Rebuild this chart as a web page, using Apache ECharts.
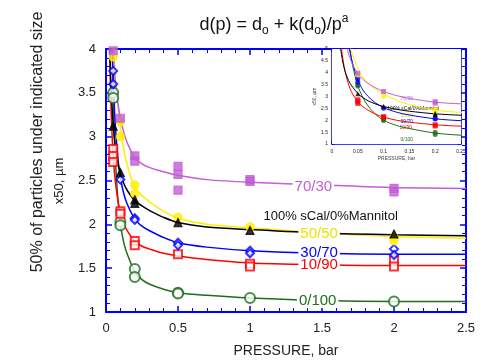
<!DOCTYPE html>
<html>
<head>
<meta charset="utf-8">
<script src="https://cdn.jsdelivr.net/npm/echarts@6/dist/echarts.min.js"></script>
<style>
  html, body { margin: 0; padding: 0; background: #fff; }
  #chart { width: 494px; height: 363px; }
</style>
</head>
<body>
<div id="chart"></div>
<script>
// measured points (pressure in bar, x50 in um)
const p7030 = [0.05, 0.1, 0.2, 0.2, 0.5, 0.5, 0.5, 1, 1, 2, 2];
const d7030 = [3.98, 3.21, 2.78, 2.72, 2.66, 2.57, 2.39, 2.51, 2.49, 2.41, 2.37];
const p5050 = [0.05, 0.1, 0.1, 0.2, 0.2, 0.5, 1, 2, 2];
const d5050 = [3.91, 3.17, 3.0, 2.45, 2.35, 2.08, 1.97, 1.85, 1.81];
const pSCal = [0.05, 0.1, 0.2, 0.2, 0.5, 1, 2];
const dSCal = [3.12, 2.59, 2.28, 2.24, 2.02, 1.93, 1.89];
const p3070 = [0.05, 0.05, 0.1, 0.2, 0.2, 0.5, 0.5, 1, 1, 2, 2];
const d3070 = [3.75, 3.6, 2.51, 2.07, 2.05, 1.79, 1.76, 1.7, 1.67, 1.72, 1.65];
const p1090 = [0.05, 0.05, 0.05, 0.1, 0.1, 0.2, 0.2, 0.5, 1, 1, 2, 2];
const d1090 = [2.86, 2.78, 2.71, 2.15, 2.12, 1.81, 1.76, 1.66, 1.55, 1.52, 1.59, 1.52];
const p0100 = [0.05, 0.05, 0.1, 0.1, 0.2, 0.2, 0.5, 0.5, 1, 2];
const d0100 = [3.5, 3.44, 2.03, 1.99, 1.49, 1.4, 1.22, 1.21, 1.16, 1.12];

// fitted curves d(p) = do + k(do)/p^a
const fitP = [0.015, 0.02, 0.025, 0.03, 0.035, 0.04, 0.05, 0.06, 0.07, 0.085, 0.1, 0.125, 0.15, 0.2, 0.25, 0.3, 0.4, 0.5, 0.7, 1, 1.5, 2, 2.5];
const fit7030 = [8.5, 6.5, 5.5, 4.95, 4.6, 4.35, 3.97, 3.72, 3.55, 3.36, 3.21, 3.04, 2.92, 2.76, 2.69, 2.65, 2.6, 2.56, 2.51, 2.48, 2.45, 2.42, 2.41];
const fit5050 = [9.5, 7.0, 6.1, 5.6, 5.1, 4.75, 4.2, 3.82, 3.55, 3.3, 3.1, 2.84, 2.66, 2.42, 2.33, 2.26, 2.15, 2.07, 2.0, 1.96, 1.9, 1.86, 1.84];
const fitSCal = [5.3, 4.55, 4.08, 3.78, 3.56, 3.4, 3.13, 2.95, 2.82, 2.68, 2.58, 2.46, 2.38, 2.27, 2.21, 2.16, 2.08, 2.02, 1.97, 1.94, 1.9, 1.88, 1.87];
const fit3070 = [10, 7.5, 6.3, 5.45, 4.85, 4.4, 3.7, 3.27, 3.0, 2.72, 2.53, 2.34, 2.22, 2.06, 1.98, 1.93, 1.85, 1.79, 1.74, 1.7, 1.67, 1.66, 1.66];
const fit1090 = [5.8, 4.75, 4.1, 3.65, 3.33, 3.1, 2.78, 2.57, 2.42, 2.25, 2.13, 2.0, 1.92, 1.81, 1.75, 1.72, 1.67, 1.64, 1.6, 1.56, 1.54, 1.53, 1.53];
const fit0100 = [12, 8, 6.6, 5.8, 5.0, 4.3, 3.45, 2.95, 2.6, 2.24, 2.0, 1.78, 1.65, 1.46, 1.37, 1.32, 1.26, 1.22, 1.19, 1.16, 1.13, 1.12, 1.12];

const xTicks = [0, 0.5, 1, 1.5, 2, 2.5];
const yTicks = [1, 1.5, 2, 2.5, 3, 3.5, 4];
const insetXTicks = [0, 0.05, 0.1, 0.15, 0.2, 0.25];
const insetYTicks = [1, 1.5, 2, 2.5, 3, 3.5, 4, 4.5, 5];

const zip = (a, b) => a.map((v, i) => [v, b[i]]);

const FONT = 'Arial, "Liberation Sans", sans-serif';
const BLUE = '#0000ff';

// draw order: green, red, blue, yellow, black, purple
const mixes = [
  { name: '0/100', color: '#1e6e1e', symbol: 'emptyCircle', inSym: 'circle', size: 10, p: p0100, d: d0100, fit: fit0100 },
  { name: '10/90', color: '#ff0000', symbol: 'emptyRect', inSym: 'rect', size: 8, p: p1090, d: d1090, fit: fit1090 },
  { name: '30/70', color: '#0000ff', symbol: 'emptyDiamond', inSym: 'circle', size: 8, p: p3070, d: d3070, fit: fit3070 },
  { name: '50/50', color: '#ffee00', symbol: 'circle', inSym: 'circle', size: 8, p: p5050, d: d5050, fit: fit5050 },
  { name: '100% sCal/0%Mannitol', color: '#000000', symbol: 'triangle', inSym: 'triangle', size: 8, p: pSCal, d: dSCal, fit: fitSCal },
  { name: '70/30', color: '#c35ed6', symbol: 'rect', inSym: 'rect', size: 8, p: p7030, d: d7030, fit: fit7030 }
];

function valueAxis(gi, pos, min, max, step, showLabel, fs, margin) {
  return {
    type: 'value', gridIndex: gi, position: pos, min: min, max: max, interval: step,
    axisLine: { show: true, onZero: false, lineStyle: { color: BLUE, width: gi === 0 ? 2 : 1.5 } },
    axisTick: { show: true, inside: true, length: gi === 0 ? 6 : 3, lineStyle: { color: BLUE, width: 1.5 } },
    minorTick: { show: true, splitNumber: 5, length: gi === 0 ? 4 : 2, lineStyle: { color: BLUE, width: 1 } },
    splitLine: { show: false },
    axisLabel: { show: showLabel, color: '#222', fontSize: fs, fontFamily: FONT, margin: margin }
  };
}

const series = [];
mixes.forEach(m => {
  series.push({
    type: 'line', xAxisIndex: 0, yAxisIndex: 0, data: zip(fitP, m.fit),
    smooth: 0.3, showSymbol: false, clip: true, z: 2,
    lineStyle: { color: m.color, width: 1.5 }, silent: true
  });
});
mixes.forEach(m => {
  series.push({
    type: 'scatter', xAxisIndex: 0, yAxisIndex: 0, data: zip(m.p, m.d),
    symbol: m.symbol, symbolSize: m.size, z: 4,
    itemStyle: { color: m.color, borderColor: m.color, borderWidth: 1.2 }
  });
});
// inset
mixes.forEach(m => {
  series.push({
    type: 'line', xAxisIndex: 2, yAxisIndex: 2, data: zip(fitP, m.fit),
    smooth: 0.3, showSymbol: false, clip: true, z: 6,
    lineStyle: { color: m.color, width: 1 }, silent: true
  });
  series.push({
    type: 'scatter', xAxisIndex: 2, yAxisIndex: 2, data: zip(m.p, m.d).filter(v => v[0] <= 0.25),
    symbol: m.inSym, symbolSize: 5, z: 7, clip: true,
    itemStyle: { color: m.color }
  });
});

function tag(text, coord, color, fs, bg) {
  return {
    coord: coord, symbolSize: 0,
    label: {
      show: true, formatter: text, color: color, fontSize: fs, fontFamily: FONT,
      position: 'inside', backgroundColor: bg ? '#fff' : 'transparent', padding: bg ? [0, 2] : 0
    }
  };
}

// inline curve labels, main chart
series.push({
  type: 'scatter', xAxisIndex: 0, yAxisIndex: 0, data: [], z: 10,
  markPoint: {
    symbol: 'rect', silent: true,
    data: [
      tag('70/30', [1.44, 2.425], '#c35ed6', 15, true),
      tag('100% sCal/0%Mannitol', [1.56, 2.09], '#111', 13, false),
      tag('50/50', [1.48, 1.89], '#f2e200', 15, true),
      tag('30/70', [1.48, 1.67], '#0000ff', 15, true),
      tag('10/90', [1.48, 1.535], '#ff0000', 15, true),
      tag('0/100', [1.47, 1.13], '#1e6e1e', 15, true)
    ]
  }
});
// inset labels
series.push({
  type: 'scatter', xAxisIndex: 2, yAxisIndex: 2, data: [], z: 11,
  markPoint: {
    symbol: 'rect', silent: true,
    data: [
      tag('70/30', [0.145, 2.92], '#c35ed6', 5, true),
      tag('100% sCal/0%Mannitol', [0.157, 2.5], '#111', 5, false),
      tag('50/50', [0.145, 2.18], '#e8d800', 5, true),
      tag('30/70', [0.145, 1.94], '#0000ff', 5, true),
      tag('10/90', [0.143, 1.7], '#ff0000', 5, true),
      tag('0/100', [0.145, 1.17], '#1e6e1e', 5, true)
    ]
  }
});

const xMain = valueAxis(0, 'bottom', xTicks[0], xTicks[xTicks.length - 1], 0.5, true, 13, 10);
Object.assign(xMain, {
  name: 'PRESSURE, bar', nameLocation: 'middle', nameGap: 32,
  nameTextStyle: { color: '#222', fontSize: 14, fontFamily: FONT }
});
const xInset = valueAxis(1, 'bottom', insetXTicks[0], insetXTicks[insetXTicks.length - 1], 0.05, true, 5, 5);
Object.assign(xInset, {
  name: 'PRESSURE, bar', nameLocation: 'middle', nameGap: 12,
  nameTextStyle: { color: '#444', fontSize: 5, fontFamily: FONT }
});
const yInset = valueAxis(1, 'left', insetYTicks[0], insetYTicks[insetYTicks.length - 1], 0.5, true, 5, 4);
Object.assign(yInset, {
  name: 'x50, µm', nameLocation: 'middle', nameGap: 14,
  nameTextStyle: { color: '#444', fontSize: 5, fontFamily: FONT }
});

const option = {
  animation: false,
  backgroundColor: '#fff',
  grid: [
    { left: 106, top: 49, width: 360, height: 267 },
    { left: 332, top: 49, width: 129, height: 95, show: true, backgroundColor: '#fff', borderWidth: 0, z: 5 }
  ],
  xAxis: [
    xMain,
    valueAxis(0, 'top', 0, 2.5, 0.5, false, 13, 8),
    xInset,
    valueAxis(1, 'top', 0, 0.25, 0.05, false, 5, 4)
  ],
  yAxis: [
    valueAxis(0, 'left', yTicks[0], yTicks[yTicks.length - 1], 0.5, true, 13, 10),
    valueAxis(0, 'right', 1, 4, 0.5, false, 13, 8),
    yInset,
    valueAxis(1, 'right', 1, 5, 0.5, false, 5, 4)
  ],
  series: series,
  graphic: [
    {
      type: 'text', x: 274, y: 25, z: 20,
      style: {
        text: '{b|d(p) = d}{s|o}{b| + k(d}{s|o}{b|)/p}{u|a}',
        align: 'center', verticalAlign: 'middle', fill: '#111',
        rich: {
          b: { fontSize: 18, fontFamily: FONT, lineHeight: 24, fill: '#111' },
          s: { fontSize: 12, fontFamily: FONT, lineHeight: 12, verticalAlign: 'bottom', fill: '#111' },
          u: { fontSize: 12, fontFamily: FONT, lineHeight: 12, verticalAlign: 'top', fill: '#111' }
        }
      }
    },
    {
      type: 'text', x: 38, y: 142, rotation: Math.PI / 2, z: 20,
      style: { text: '50% of particles under indicated size', fontSize: 16, fontFamily: FONT, fill: '#222', align: 'center', verticalAlign: 'middle' }
    },
    {
      type: 'text', x: 59, y: 181, rotation: Math.PI / 2, z: 20,
      style: { text: 'x50, µm', fontSize: 13, fontFamily: FONT, fill: '#222', align: 'center', verticalAlign: 'middle' }
    }
  ]
};

const chart = echarts.init(document.getElementById('chart'), null, { renderer: 'canvas' });
chart.setOption(option);
</script>
</body>
</html>
